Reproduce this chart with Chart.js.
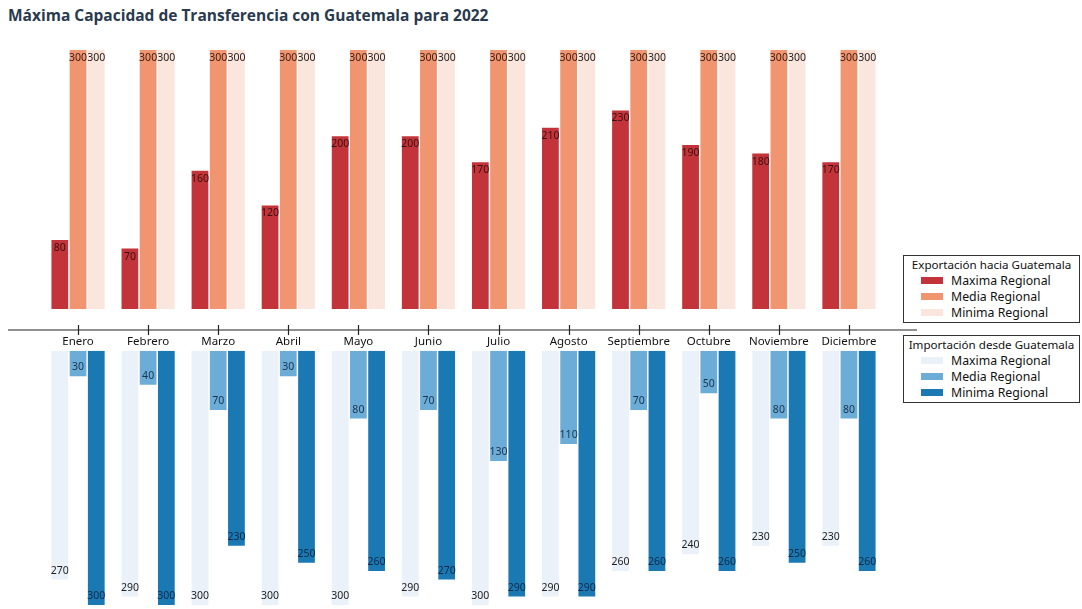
<!DOCTYPE html>
<html lang="es">
<head>
<meta charset="utf-8">
<script src="https://cdn.jsdelivr.net/npm/chart.js@4"></script>
<style>
  body { margin: 0; background: #fff; }
  #wrap { position: relative; width: 1082px; height: 609px; font-family: "Noto Sans", sans-serif; }
  #titulo { position: absolute; left: 8px; top: 4px; font: bold 15.5px "Open Sans", sans-serif; color: #2a3a4e; }
  #c-export { position: absolute; left: 0; top: 0; }
  #c-import { position: absolute; left: 0; top: 320px; }
  .leyenda { position: absolute; left: 903px; width: 175px; border: 1px solid #333; background: #fff;
             font-size: 12.3px; color: #111; padding: 1px 0 1px 0; }
  .leyenda .tit { text-align: center; line-height: 16px; white-space: nowrap; font-size: 11.6px; }
  .leyenda .fila { line-height: 16px; padding-left: 17px; white-space: nowrap; }
  .leyenda .caja { display: inline-block; width: 22px; height: 7px; margin-right: 8px; vertical-align: 1px; }
</style>
</head>
<body>
<div id="wrap">
  <div id="titulo">Máxima Capacidad de Transferencia con Guatemala para 2022</div>
  <canvas id="c-export" width="1082" height="330"></canvas>
  <canvas id="c-import" width="1082" height="289"></canvas>
  <div class="leyenda" id="ley-export" style="top:255px"></div>
  <div class="leyenda" id="ley-import" style="top:335px"></div>
</div>
<script>
const meses = ["Enero", "Febrero", "Marzo", "Abril", "Mayo", "Junio", "Julio",
  "Agosto", "Septiembre", "Octubre", "Noviembre", "Diciembre"];

// Exportación hacia Guatemala
const expMaxima = [80, 70, 160, 120, 200, 200, 170, 210, 230, 190, 180, 170];
const expMedia = [300, 300, 300, 300, 300, 300, 300, 300, 300, 300, 300, 300];
const expMinima = [300, 300, 300, 300, 300, 300, 300, 300, 300, 300, 300, 300];

// Importación desde Guatemala
const impMaxima = [270, 290, 300, 300, 300, 290, 300, 290, 260, 240, 230, 230];
const impMedia = [30, 40, 70, 30, 80, 70, 130, 110, 70, 50, 80, 80];
const impMinima = [300, 300, 230, 250, 260, 270, 290, 290, 260, 260, 250, 260];

const nombres = ["Maxima Regional", "Media Regional", "Minima Regional"];
const rojos = ["#c3343a", "#f0956f", "#fbe6dd"];
const azules = ["#eaf1f8", "#6badd6", "#1a79b3"];

// etiquetas de valor en el extremo de cada barra
const etiquetas = {
  id: "etiquetas",
  afterDatasetsDraw(chart) {
    const ctx = chart.ctx;
    const invertido = chart.options.scales.y.reverse;
    ctx.save();
    ctx.font = "10.5px 'Noto Sans', sans-serif";
    ctx.textAlign = "center";
    ctx.textBaseline = "middle";
    chart.data.datasets.forEach(function (ds, i) {
      chart.getDatasetMeta(i).data.forEach(function (bar, j) {
        ctx.fillStyle = ds.colorTexto || "#222";
        const y = invertido ? bar.y - 9 : bar.y + 8;
        ctx.fillText(String(ds.data[j]), bar.x, y);
      });
    });
    ctx.restore();
  },
};

// eje horizontal con marcas entre ambos gráficos
const ejeCentral = {
  id: "ejeCentral",
  afterDraw(chart) {
    const ctx = chart.ctx;
    const x = chart.scales.x;
    const y = 10;
    ctx.save();
    ctx.strokeStyle = "#222";
    ctx.lineWidth = 1.2;
    ctx.beginPath();
    ctx.moveTo(8, y);
    ctx.lineTo(917, y);
    for (let i = 0; i < meses.length; i++) {
      const px = Math.round(x.getPixelForTick(i)) + 0.5;
      ctx.moveTo(px, y - 5);
      ctx.lineTo(px, y + 5);
    }
    ctx.stroke();
    ctx.restore();
  },
};

function serie(nombre, datos, color, texto) {
  return {
    label: nombre,
    data: datos,
    backgroundColor: color,
    borderWidth: 0,
    categoryPercentage: 0.78,
    barPercentage: 0.92,
    colorTexto: texto,
  };
}

const chartExport = new Chart(document.getElementById("c-export"), {
  type: "bar",
  data: {
    labels: meses,
    datasets: [
      serie(nombres[0], expMaxima, rojos[0], "#3a1010"),
      serie(nombres[1], expMedia, rojos[1], "#3a1a10"),
      serie(nombres[2], expMinima, rojos[2], "#222"),
    ],
  },
  options: {
    responsive: false,
    animation: false,
    layout: { padding: { left: 43, right: 198, top: 50, bottom: 21 } },
    plugins: { legend: { display: false }, tooltip: { enabled: false } },
    scales: {
      x: { display: false },
      y: { display: false, min: 0, max: 300 },
    },
  },
  plugins: [etiquetas],
});

const chartImport = new Chart(document.getElementById("c-import"), {
  type: "bar",
  data: {
    labels: meses,
    datasets: [
      serie(nombres[0], impMaxima, azules[0], "#222"),
      serie(nombres[1], impMedia, azules[1], "#1a3350"),
      serie(nombres[2], impMinima, azules[2], "#0d2a48"),
    ],
  },
  options: {
    responsive: false,
    animation: false,
    layout: { padding: { left: 43, right: 198, top: 13, bottom: 4 } },
    plugins: { legend: { display: false }, tooltip: { enabled: false } },
    scales: {
      x: {
        position: "top",
        grid: { display: false, drawTicks: false },
        border: { display: false },
        ticks: {
          autoSkip: false,
          maxRotation: 0,
          padding: 2,
          color: "#111",
          font: { family: "'Noto Sans', sans-serif", size: 11.5 },
        },
      },
      y: { display: false, min: 0, max: 300, reverse: true },
    },
  },
  plugins: [etiquetas, ejeCentral],
});

// leyendas en cajas, construidas a partir de los datasets
function leyenda(id, titulo, chart) {
  const el = document.getElementById(id);
  let html = '<div class="tit">' + titulo + "</div>";
  chart.data.datasets.forEach(function (ds) {
    html += '<div class="fila"><span class="caja" style="background:' +
      ds.backgroundColor + '"></span>' + ds.label + "</div>";
  });
  el.innerHTML = html;
}
leyenda("ley-export", "Exportación hacia Guatemala", chartExport);
leyenda("ley-import", "Importación desde Guatemala", chartImport);
</script>
</body>
</html>
